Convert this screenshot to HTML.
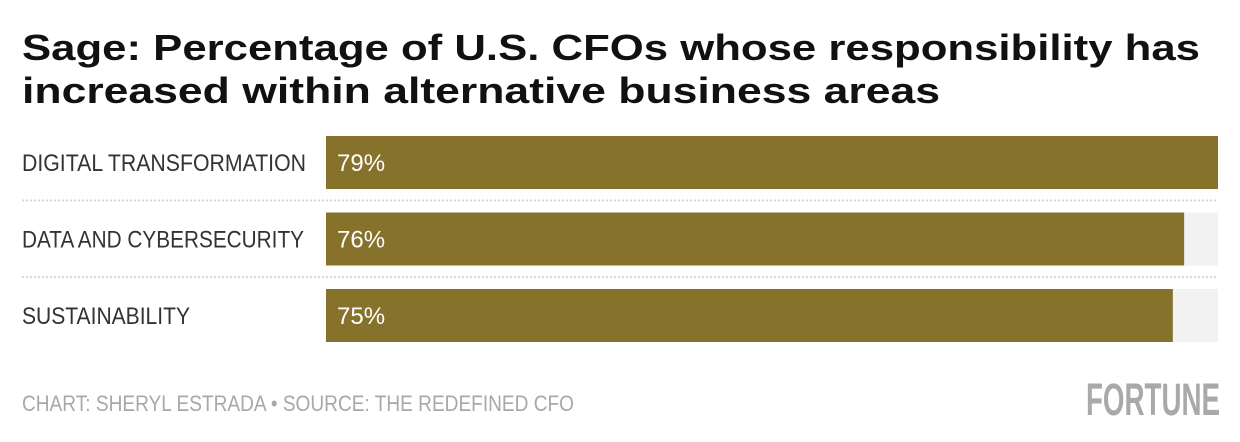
<!DOCTYPE html>
<html><head><meta charset="utf-8"><style>
html,body{margin:0;padding:0;background:#fff;width:1240px;height:442px;overflow:hidden}
svg{display:block}
</style></head><body>
<svg width="1240" height="442" id="chart" xmlns="http://www.w3.org/2000/svg">
<text x="22" y="60" font-family="Liberation Sans, sans-serif" font-weight="bold" font-size="36" fill="#111" textLength="1178" lengthAdjust="spacingAndGlyphs">Sage: Percentage of U.S. CFOs whose responsibility has</text>
<text x="22" y="103" font-family="Liberation Sans, sans-serif" font-weight="bold" font-size="36" fill="#111" textLength="918" lengthAdjust="spacingAndGlyphs">increased within alternative business areas</text>
<g id="bars"></g>
<text x="22" y="411" font-family="Liberation Sans Narrow, Liberation Sans, sans-serif" font-size="22" fill="#a8a8a8" textLength="552" lengthAdjust="spacingAndGlyphs">CHART: SHERYL ESTRADA • SOURCE: THE REDEFINED CFO</text>
<text x="1086" y="415" font-family="Liberation Sans Narrow, Liberation Sans, sans-serif" font-weight="bold" font-size="45" fill="#a9a9a9" textLength="134" lengthAdjust="spacingAndGlyphs">FORTUNE</text>
</svg>
<script>
const categories = ["DIGITAL TRANSFORMATION", "DATA AND CYBERSECURITY", "SUSTAINABILITY"];
const values = [79, 76, 75];
const labelWidths = [284, 282, 168];
const NS = "http://www.w3.org/2000/svg";
const g = document.getElementById("bars");
const x0 = 326, x1 = 1218, maxV = Math.max(...values);
const xs = v => x0 + (v / maxV) * (x1 - x0);
const rowTop = i => 136 + i * 76.5;
const barH = 53;
function mk(tag, attrs){const e=document.createElementNS(NS,tag);for(const k in attrs)e.setAttribute(k,attrs[k]);return e;}
categories.forEach((c, i) => {
  const y = rowTop(i);
  const track = mk("rect",{x:x0,y:y,width:x1-x0,height:barH,fill:"#f2f2f2"});
  
  
  g.appendChild(track);
  const bar = mk("rect",{x:x0,y:y,width:xs(values[i])-x0,height:barH,fill:"#86722b"});
  
  
  g.appendChild(bar);
  const lab = mk("text",{x:22,y:y+35,"font-family":"Liberation Sans Narrow, Liberation Sans, sans-serif","font-size":"24",fill:"#333",textLength:labelWidths[i],lengthAdjust:"spacingAndGlyphs"});
  lab.textContent = c;
  
  
  g.appendChild(lab);
  const val = mk("text",{x:337,y:y+35,"font-family":"Liberation Sans Narrow, Liberation Sans, sans-serif","font-size":"24",fill:"#fff"});
  val.textContent = values[i] + "%";
  
  
  g.appendChild(val);
  if (i < categories.length - 1) {
    const ln = mk("line",{x1:22,x2:x1,y1:y+barH+11.5,y2:y+barH+11.5,stroke:"#d8d8d8","stroke-width":"2","stroke-dasharray":"2 2"});
    
    
    g.appendChild(ln);
  }
});
</script>
</body></html>
